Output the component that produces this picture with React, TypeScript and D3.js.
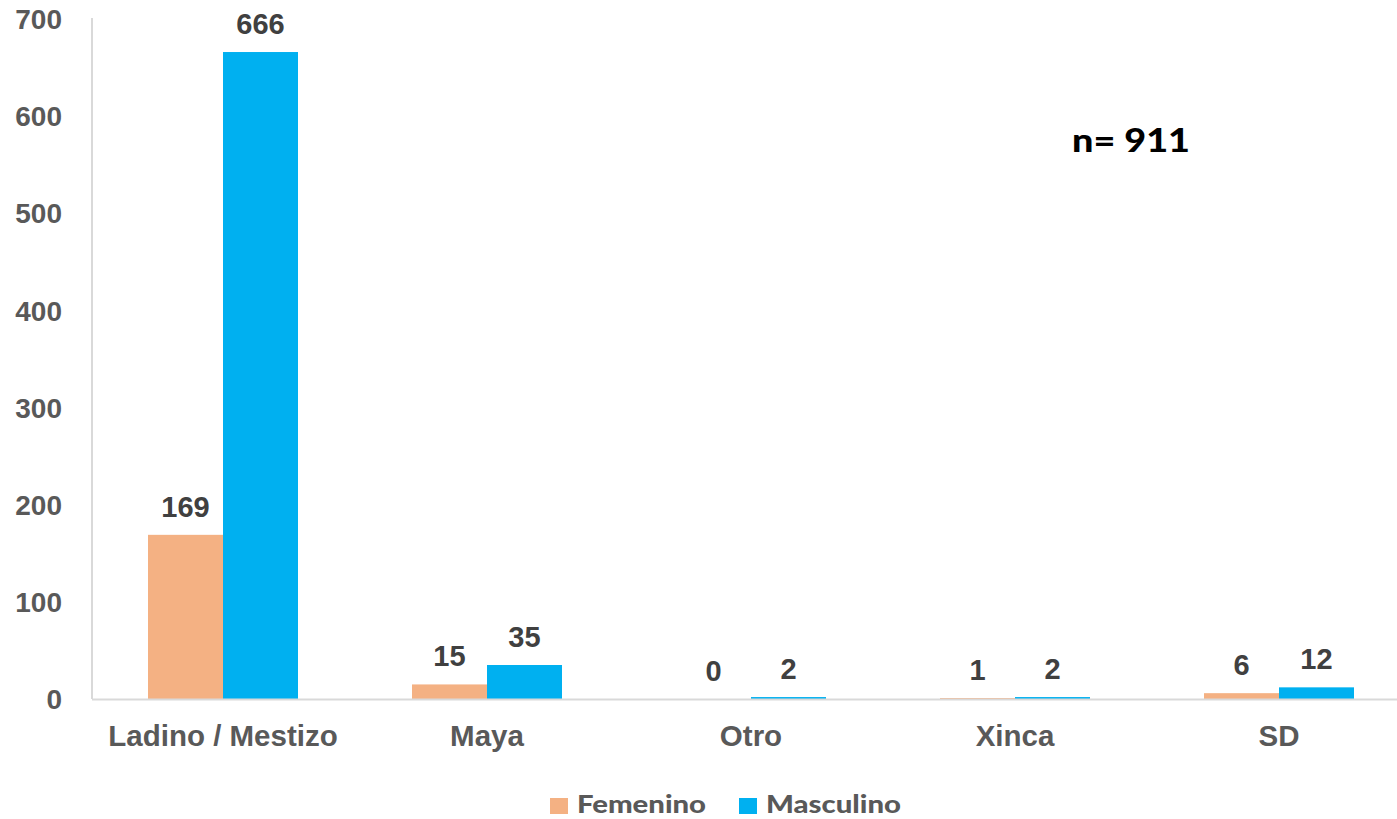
import React from "react";
import * as d3 from "d3";

const categories = ["Ladino / Mestizo", "Maya", "Otro", "Xinca", "SD"];
const femenino = [169, 15, 0, 1, 6];
const masculino = [666, 35, 2, 2, 12];
const yTicks = [0, 100, 200, 300, 400, 500, 600, 700];
const seriesNames = ["Femenino", "Masculino"];
const colors = ["#F4B183", "#00B0F0"];

const W = 1397;
const H = 819;

export default function App() {
  const x = d3.scaleBand<string>().domain(categories).range([91, 91 + 264 * 5]).paddingInner(0).paddingOuter(0);
  const inner = d3.scaleBand<string>().domain(seriesNames).range([0, 150]);
  const y = d3.scaleLinear().domain([0, 700]).range([699, 19]);
  const series = [femenino, masculino];
  const groupOffset = (x.bandwidth() - 150) / 2;
  const legendX = [550, 739];
  const legendLen = [129, 135];

  return (
    <div style={{ position: "absolute", left: 0, top: 0 }}>
      <svg width={W} height={H} style={{ display: "block", background: "#fff" }}>
        <line x1={92} x2={92} y1={18} y2={699} stroke="#d9d9d9" strokeWidth={2} />
        {yTicks.map((t) => (
          <text key={t} x={62} y={y(t)} dy="0.36em" textAnchor="end" fontFamily="'Liberation Sans', Arial, sans-serif" fontWeight="bold" fontSize={28} fill="#595959">
            {t}
          </text>
        ))}
        {categories.map((c, i) => (
          <g key={c}>
            {series.map((s, j) => {
              const v = s[i];
              const bx = (x(c) as number) + groupOffset + (inner(seriesNames[j]) as number);
              const top = y(v);
              return (
                <g key={j}>
                  {v > 0 && (
                    <rect x={bx} y={top} width={inner.bandwidth()} height={y(0) - top} fill={colors[j]} />
                  )}
                  <text x={bx + inner.bandwidth() / 2} y={top - 18} textAnchor="middle" fontFamily="'Liberation Sans', Arial, sans-serif" fontWeight="bold" fontSize={29} fill="#404040">
                    {v}
                  </text>
                </g>
              );
            })}
            <text x={(x(c) as number) + x.bandwidth() / 2} y={746} textAnchor="middle" fontFamily="'Liberation Sans', Arial, sans-serif" fontWeight="bold" fontSize={29.5} fill="#595959">
              {c}
            </text>
          </g>
        ))}
        <line x1={92} x2={W} y1={699.5} y2={699.5} stroke="#d9d9d9" strokeWidth={2} />
        <text x={1072} y={152} textLength={118} lengthAdjust="spacingAndGlyphs" fontFamily="Lato, 'Open Sans', sans-serif" fontWeight="900" fontSize={33} fill="#000">
          n= 911
        </text>
        {seriesNames.map((n, j) => (
          <g key={n}>
            <rect x={legendX[j]} y={798} width={18} height={16} fill={colors[j]} />
            <text x={legendX[j] + 27} y={813} textLength={legendLen[j]} lengthAdjust="spacingAndGlyphs" fontFamily="Lato, 'Open Sans', sans-serif" fontWeight="900" fontSize={24} fill="#595959">
              {n}
            </text>
          </g>
        ))}
      </svg>
    </div>
  );
}
